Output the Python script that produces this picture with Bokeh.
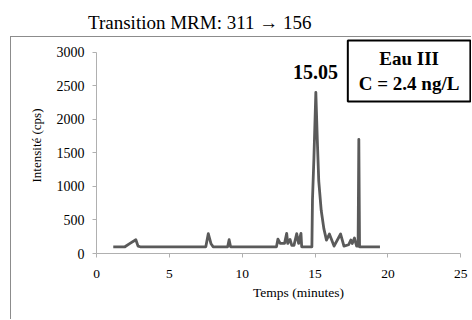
from bokeh.plotting import figure
from bokeh.layouts import column
from bokeh.models import Range1d, FixedTicker, Label
from bokeh.embed import file_html
from bokeh.resources import INLINE

# ---- data ----
times = [1.15, 1.95, 2.3, 2.7, 2.85, 3.0,
         7.5, 7.67, 7.85, 8.0,
         9.0, 9.1, 9.2,
         12.35, 12.45, 12.6, 12.9, 13.05, 13.12, 13.28, 13.4, 13.55, 13.74, 13.87, 14.03, 14.08,
         14.78, 14.82, 14.92, 15.05, 15.15, 15.25, 15.42, 15.6, 15.78, 15.98, 16.3, 16.75, 16.98,
         17.3, 17.45, 17.55, 17.7, 17.85, 17.95, 18.0, 18.05, 19.45]
intensity = [100, 100, 150, 205, 110, 100,
             100, 295, 150, 100,
             100, 205, 100,
             100, 215, 150, 150, 300, 150, 210, 120, 120, 295, 150, 300, 100,
             100, 800, 1430, 2400, 1700, 1080, 640, 370, 200, 290, 110, 290, 110,
             130, 200, 150, 230, 110, 110, 1700, 100, 100]
x_ticks = [0, 5, 10, 15, 20, 25]
y_ticks = [0, 500, 1000, 1500, 2000, 2500, 3000]
title_text = "Transition MRM: 311 \u2192 156"
x_title = "Temps (minutes)"
y_title = "Intensit\u00e9 (cps)"
peak_label = "15.05"
peak_time = 15.05
box_text = "Eau III\nC = 2.4 ng/L"

SERIF = "Liberation Serif"
BORDER = "1px solid #8c8c8c"


def strip(width, height, xr, styles=None, margin=(0, 0, 0, 0)):
    s = figure(width=width, height=height, output_backend="svg", toolbar_location=None,
               x_range=Range1d(*xr), y_range=Range1d(0, height), title=None,
               x_axis_location=None, y_axis_location=None,
               min_border=0, min_border_left=0, min_border_right=0,
               min_border_top=0, min_border_bottom=0, margin=margin,
               styles=styles or {})
    s.outline_line_color = None
    s.xgrid.grid_line_color = None
    s.ygrid.grid_line_color = None
    return s


# ---- title strip (its frame is aligned with the chart frame: page x 96..472) ----
t = strip(472, 36, (96, 472))
t.add_layout(Label(x=207, y=14, text=title_text, text_align="center", text_baseline="middle",
                   text_font=SERIF, text_font_size="19px", text_color="#000000"))

# ---- chart area ----
p = figure(width=461, height=250, output_backend="svg", toolbar_location=None,
           x_range=Range1d(0, 25.8), y_range=Range1d(0, 3216), title=None,
           min_border_left=85, min_border_right=0, min_border_top=0, min_border_bottom=34,
           margin=(0, 0, 0, 10),
           styles={"border-left": BORDER, "border-top": BORDER})
p.outline_line_color = None
p.xgrid.grid_line_color = None
p.ygrid.grid_line_color = None

for ax in (p.xaxis[0], p.yaxis[0]):
    ax.axis_line_color = "#b0b0b0"
    ax.major_tick_line_color = "#b0b0b0"
    ax.major_tick_out = 4
    ax.major_tick_in = 0
    ax.minor_tick_line_color = None
    ax.major_label_text_font = SERIF
    ax.major_label_text_color = "#000000"
    ax.axis_label_text_font = SERIF
    ax.axis_label_text_font_size = "13px"
    ax.axis_label_text_font_style = "normal"
    ax.axis_label_text_color = "#000000"
p.xaxis[0].major_label_text_font_size = "13.5px"
p.yaxis[0].major_label_text_font_size = "14px"
p.xaxis[0].ticker = FixedTicker(ticks=x_ticks)
p.yaxis[0].ticker = FixedTicker(ticks=y_ticks)
p.xaxis[0].bounds = (0, 25)
p.yaxis[0].bounds = (0, 3000)
p.xaxis[0].major_label_standoff = 12
p.yaxis[0].major_label_standoff = 8
p.yaxis[0].axis_label = y_title
p.yaxis[0].axis_label_standoff = 10

p.line(times, intensity, line_color="#5a5a5a", line_width=2.8, line_join="round")

p.add_layout(Label(x=peak_time - 0.02, y=2700, text=peak_label, text_align="center",
                   text_baseline="middle", text_font=SERIF, text_font_size="20px",
                   text_font_style="bold", text_color="#000000"))
p.add_layout(Label(x=21.45, y=2717, text=box_text, text_align="center", text_baseline="middle",
                   text_font=SERIF, text_font_size="19px", text_font_style="bold",
                   text_color="#000000", text_line_height=1.15,
                   border_line_color="#000000", border_line_width=2,
                   background_fill_color="#ffffff", padding=(11, 8)))

# ---- x-axis title strip ----
b = strip(461, 33, (96, 472), styles={"border-left": BORDER}, margin=(0, 0, 0, 10))
b.add_layout(Label(x=298, y=27, text=x_title, text_align="center", text_baseline="middle",
                   text_font=SERIF, text_font_size="13.5px", text_color="#000000"))

layout = column(t, p, b, spacing=0)
open("out.html", "w").write(file_html(layout, INLINE))
